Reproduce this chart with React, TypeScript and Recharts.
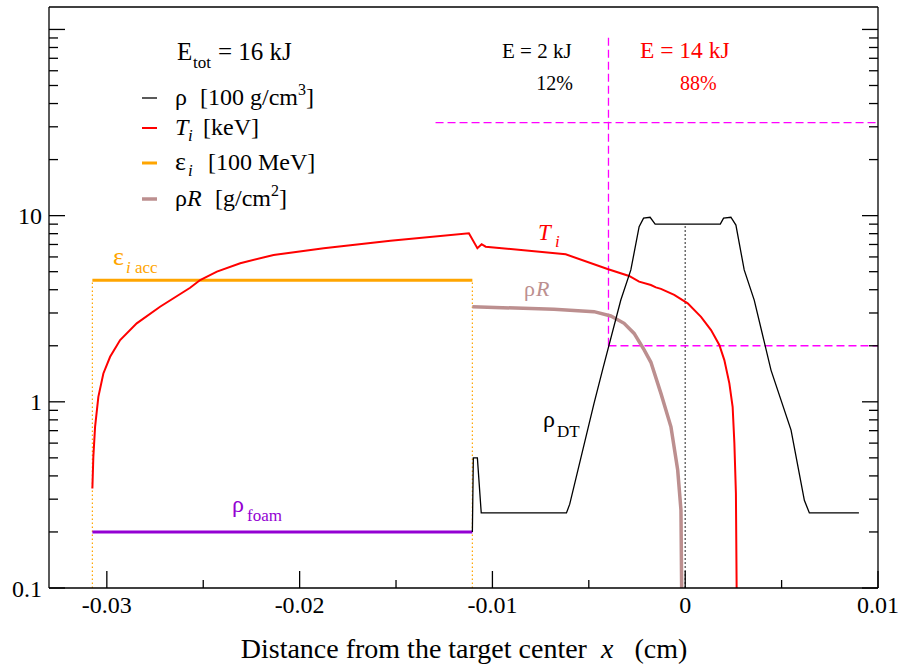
import React from 'react';
import { LineChart, Line, XAxis, YAxis, ReferenceLine } from 'recharts';

// ---- data ----
const tempX = [-0.03075, -0.0307, -0.03061, -0.03044, -0.03018, -0.02983, -0.02931, -0.02845, -0.02724, -0.02568, -0.02516, -0.02429, -0.02308, -0.02135, -0.01875, -0.01529, -0.01122, -0.01078, -0.01056, -0.01035, -0.0062, -0.00403, -0.00291, -0.00239, -0.00178, -0.00152, -0.00126, -0.00057, 0.00013, 0.00082, 0.00134, 0.00177, 0.00203, 0.00229, 0.00246, 0.00255, 0.00263, 0.00269];
const tempY = [0.342, 0.506, 0.734, 1.064, 1.42, 1.746, 2.146, 2.64, 3.24, 4.1, 4.51, 5.0, 5.55, 6.15, 6.68, 7.34, 8.04, 6.68, 7.02, 6.81, 6.2, 5.17, 4.74, 4.42, 4.24, 4.12, 4.04, 3.75, 3.38, 2.86, 2.43, 2.02, 1.676, 1.256, 0.94, 0.6, 0.323, 0.05];

const rhoX = [-0.01104, -0.01099, -0.01078, -0.01058, -0.00616, -0.00599, -0.00473, -0.00429, -0.00334, -0.00282, -0.00239, -0.00216, -0.00182, -0.00156, 0.00182, 0.00199, 0.00237, 0.00263, 0.00306, 0.00358, 0.00445, 0.00549, 0.00618, 0.00644, 0.00901];
const rhoY = [0.2, 0.5, 0.5, 0.253, 0.253, 0.282, 0.98, 1.48, 3.52, 5.11, 8.73, 9.7, 9.8, 9.0, 9.0, 9.7, 9.8, 8.9, 5.11, 3.52, 1.48, 0.705, 0.296, 0.253, 0.253];

const rhoRX = [-0.01104, -0.00681, -0.00473, -0.00386, -0.00317, -0.00265, -0.00213, -0.00178, -0.00126, -0.00074, -0.00039, -0.00022, -0.00016];
const rhoRY = [3.24, 3.14, 3.05, 2.89, 2.64, 2.33, 1.9, 1.63, 1.11, 0.734, 0.43, 0.262, 0.05];

const epsX = [-0.03075, -0.01104];
const epsY = [4.5, 4.5];

const foamX = [-0.03075, -0.01104];
const foamY = [0.2, 0.2];

// guide lines
const magVertX = [-0.00398, -0.00398];
const magVertY = [2.0, 93];
const magUpperX = [-0.01295, 0.01];
const magUpperY = [31.6, 31.6];
const magLowerX = [-0.00398, 0.01];
const magLowerY = [2.0, 2.0];
const centerX = [0, 0];
const centerY = [0.1, 8.8];
const accLeftX = [-0.03075, -0.03075];
const accRightX = [-0.01104, -0.01104];
const accY = [0.1, 4.5];

const xTicks = [-0.03, -0.025, -0.02, -0.015, -0.01, -0.005, 0, 0.005, 0.01];
const yTicks = [0.1, 0.2, 0.3, 0.4, 0.5, 0.6, 0.7, 0.8, 0.9, 1, 2, 3, 4, 5, 6, 7, 8, 9, 10, 20, 30, 40, 50, 60, 70, 80, 90, 100];
const yMajor = [0.1, 1, 10, 100];
const yLabels: Record<string, string> = { '0.1': '0.1', '1': '1', '10': '10' };

const pts = (xs: number[], ys: number[]) => xs.map((x, i) => ({ x, y: ys[i] }));

const FONT = "'Liberation Serif', 'Times New Roman', serif";
const TS = { fontFamily: FONT };

const LeftTick = (props: any) => {
  const { x, y, payload } = props;
  const v = payload.value;
  const major = yMajor.some((m) => Math.abs(m - v) < 1e-9);
  const lab = yLabels[String(v)];
  return (
    <g>
      <line x1={x} x2={x + (major ? 16 : 9)} y1={y} y2={y} stroke="#000" strokeWidth={1.3} />
      {lab && (
        <text x={x - 7} y={y + 8.5} textAnchor="end" style={TS} fontSize={24} fill="#000">
          {lab}
        </text>
      )}
    </g>
  );
};

const RightTick = (props: any) => {
  const { x, y, payload } = props;
  const v = payload.value;
  const major = yMajor.some((m) => Math.abs(m - v) < 1e-9);
  return <line x1={x} x2={x - (major ? 16 : 9)} y1={y} y2={y} stroke="#000" strokeWidth={1.3} />;
};

const BottomTick = (props: any) => {
  const { x, y, payload } = props;
  const v = payload.value;
  const major = Math.abs(v * 100 - Math.round(v * 100)) < 1e-9;
  const lab = Math.abs(v) < 1e-12 ? '0' : v.toFixed(2);
  return (
    <g>
      <line x1={x} x2={x} y1={y} y2={y - (major ? 17 : 8)} stroke="#000" strokeWidth={1.3} />
      {major && (
        <text x={x} y={y + 25} textAnchor="middle" style={TS} fontSize={24} fill="#000">
          {lab}
        </text>
      )}
    </g>
  );
};

const Overlay = () => (
  <svg width={898} height={666} style={{ position: 'absolute', left: 0, top: 0, pointerEvents: 'none', fontFamily: FONT }}>
    {/* title E_tot */}
    <text x={177} y={60} fontSize={25} fill="#000">E</text>
    <text x={193} y={68} fontSize={17} fill="#000">tot</text>
    <text x={218} y={60} fontSize={25} fill="#000">= 16 kJ</text>

    {/* legend */}
    <line x1={142} x2={157} y1={98} y2={98} stroke="#000" strokeWidth={1.3} />
    <text x={175} y={105} fontSize={24} fill="#000">ρ</text>
    <text x={200} y={105} fontSize={24} fill="#000">[100 g/cm</text>
    <text x={298} y={95} fontSize={16} fill="#000">3</text>
    <text x={306} y={105} fontSize={24} fill="#000">]</text>

    <line x1={142} x2={157} y1={128} y2={128} stroke="#ff0000" strokeWidth={2} />
    <text x={175} y={134.5} fontSize={24} fill="#000" fontStyle="italic">T</text>
    <text x={188} y={141} fontSize={17} fill="#000" fontStyle="italic">i</text>
    <text x={203} y={134.5} fontSize={24} fill="#000">[keV]</text>

    <line x1={142} x2={157} y1={163} y2={163} stroke="#ffa500" strokeWidth={3} />
    <text x={175} y={170} fontSize={26} fill="#000">ε</text>
    <text x={188} y={176} fontSize={17} fill="#000" fontStyle="italic">i</text>
    <text x={208} y={170} fontSize={24} fill="#000">[100 MeV]</text>

    <line x1={142} x2={157} y1={199} y2={199} stroke="#bc8f8f" strokeWidth={3.5} />
    <text x={175} y={206} fontSize={24} fill="#000">ρ</text>
    <text x={187} y={206} fontSize={24} fill="#000" fontStyle="italic">R</text>
    <text x={215} y={206} fontSize={24} fill="#000">[g/cm</text>
    <text x={271} y={196} fontSize={16} fill="#000">2</text>
    <text x={279} y={206} fontSize={24} fill="#000">]</text>

    {/* energy annotations */}
    <text x={502} y={58} fontSize={21} fill="#000">E = 2 kJ</text>
    <text x={573} y={90} fontSize={20} fill="#000" textAnchor="end">12%</text>
    <text x={640} y={58} fontSize={23.5} fill="#ff0000">E = 14 kJ</text>
    <text x={680} y={90} fontSize={20} fill="#ff0000">88%</text>

    {/* curve labels */}
    <text x={113} y={265} fontSize={26} fill="#ffa500">ε</text>
    <text x={126} y={273} fontSize={17} fill="#ffa500"><tspan fontStyle="italic">i</tspan> acc</text>

    <text x={232} y={512} fontSize={24} fill="#9400d3">ρ</text>
    <text x={247} y={521} fontSize={17} fill="#9400d3">foam</text>

    <text x={538} y={240} fontSize={23} fill="#ff0000" fontStyle="italic">T</text>
    <text x={555} y={247} fontSize={17} fill="#ff0000" fontStyle="italic">i</text>

    <text x={524} y={296} fontSize={22} fill="#bc8f8f">ρ</text>
    <text x={536} y={296} fontSize={22} fill="#bc8f8f" fontStyle="italic">R</text>

    <text x={543} y={427} fontSize={24} fill="#000">ρ</text>
    <text x={557} y={437} fontSize={17} fill="#000">DT</text>

    {/* x axis title */}
    <text x={464} y={658} fontSize={28} fill="#000" textAnchor="middle" xmlSpace="preserve">
      Distance from the target center  <tspan fontStyle="italic">x</tspan>   (cm)
    </text>
  </svg>
);

export default function App() {
  return (
    <div style={{ position: 'absolute', left: 0, top: 0, width: 898, height: 666, background: '#fff' }}>
      <LineChart width={898} height={666} margin={{ top: 7, right: 0, bottom: 0, left: 0 }}>
        <XAxis
          type="number"
          dataKey="x"
          domain={[-0.033, 0.01]}
          allowDataOverflow
          ticks={xTicks}
          interval={0}
          height={78}
          tickSize={0}
          tickMargin={0}
          tickLine={false}
          axisLine={{ stroke: '#000', strokeWidth: 1.3 }}
          tick={<BottomTick />}
        />
        <YAxis
          yAxisId="left"
          type="number"
          scale="log"
          domain={[0.1, 132]}
          allowDataOverflow
          ticks={yTicks}
          interval={0}
          width={49}
          tickSize={0}
          tickMargin={0}
          tickLine={false}
          axisLine={{ stroke: '#000', strokeWidth: 1.3 }}
          tick={<LeftTick />}
        />
        <YAxis
          yAxisId="right"
          orientation="right"
          type="number"
          scale="log"
          domain={[0.1, 132]}
          allowDataOverflow
          ticks={yTicks}
          interval={0}
          width={20}
          tickSize={0}
          tickMargin={0}
          tickLine={false}
          axisLine={{ stroke: '#000', strokeWidth: 1.3 }}
          tick={<RightTick />}
        />
        <ReferenceLine yAxisId="left" y={132} stroke="#000" strokeWidth={1.3} />

        {/* guides */}
        <Line yAxisId="left" data={pts(accLeftX, accY)} dataKey="y" stroke="#ffa500" strokeWidth={1.2} strokeDasharray="1.5 2.5" dot={false} isAnimationActive={false} />
        <Line yAxisId="left" data={pts(accRightX, accY)} dataKey="y" stroke="#ffa500" strokeWidth={1.2} strokeDasharray="1.5 2.5" dot={false} isAnimationActive={false} />
        <Line yAxisId="left" data={pts(centerX, centerY)} dataKey="y" stroke="#555" strokeWidth={1.3} strokeDasharray="2 2" dot={false} isAnimationActive={false} />
        <Line yAxisId="left" data={pts(magVertX, magVertY)} dataKey="y" stroke="#ff00ff" strokeWidth={1.3} strokeDasharray="8 4" dot={false} isAnimationActive={false} />
        <Line yAxisId="left" data={pts(magUpperX, magUpperY)} dataKey="y" stroke="#ff00ff" strokeWidth={1.3} strokeDasharray="8 4" dot={false} isAnimationActive={false} />
        <Line yAxisId="left" data={pts(magLowerX, magLowerY)} dataKey="y" stroke="#ff00ff" strokeWidth={1.3} strokeDasharray="8 4" dot={false} isAnimationActive={false} />

        {/* series */}
        <Line yAxisId="left" data={pts(epsX, epsY)} dataKey="y" stroke="#ffa500" strokeWidth={3} dot={false} isAnimationActive={false} />
        <Line yAxisId="left" data={pts(foamX, foamY)} dataKey="y" stroke="#9400d3" strokeWidth={3} dot={false} isAnimationActive={false} />
        <Line yAxisId="left" data={pts(rhoRX, rhoRY)} dataKey="y" stroke="#bc8f8f" strokeWidth={3.5} dot={false} isAnimationActive={false} />
        <Line yAxisId="left" data={pts(tempX, tempY)} dataKey="y" stroke="#ff0000" strokeWidth={2} dot={false} isAnimationActive={false} />
        <Line yAxisId="left" data={pts(rhoX, rhoY)} dataKey="y" stroke="#000" strokeWidth={1.3} dot={false} isAnimationActive={false} />
      </LineChart>
      <Overlay />
    </div>
  );
}
